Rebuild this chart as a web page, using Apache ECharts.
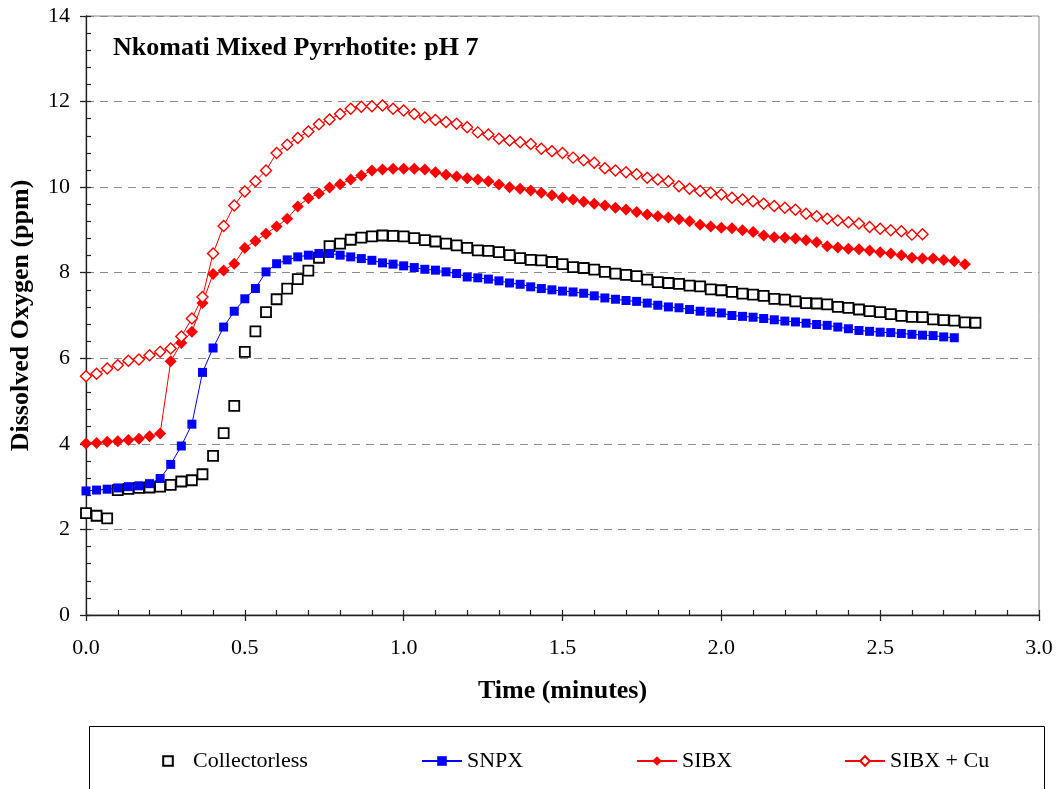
<!DOCTYPE html>
<html>
<head>
<meta charset="utf-8">
<script src="https://cdn.jsdelivr.net/npm/echarts@6/dist/echarts.min.js"></script>
<style>
html,body{margin:0;padding:0;background:#fff;}
#chart{width:1057px;height:789px;}
</style>
</head>
<body>
<div id="chart"></div>
<script>
// Sampling interval: one reading every 2 seconds (in minutes)
const timeStepMin = 2 / 60;

const seriesNames = ['Collectorless', 'SNPX', 'SIBX', 'SIBX + Cu'];
const xTickLabels = ['0.0', '0.5', '1.0', '1.5', '2.0', '2.5', '3.0'];
const yTickLabels = ['0', '2', '4', '6', '8', '10', '12', '14'];

const collectorless = [
  2.38, 2.32, 2.26, 2.92, 2.95, 2.97, 2.98, 3.00, 3.04, 3.12,
  3.15, 3.29, 3.72, 4.25, 4.89, 6.15, 6.63, 7.08, 7.38, 7.63,
  7.85, 8.05, 8.35, 8.62, 8.68, 8.77, 8.82, 8.85, 8.87, 8.86,
  8.85, 8.81, 8.76, 8.73, 8.68, 8.64, 8.58, 8.52, 8.51, 8.48,
  8.41, 8.34, 8.30, 8.29, 8.25, 8.20, 8.13, 8.11, 8.07, 8.02,
  7.98, 7.95, 7.92, 7.84, 7.78, 7.76, 7.74, 7.70, 7.68, 7.61,
  7.59, 7.55, 7.51, 7.49, 7.46, 7.39, 7.37, 7.33, 7.29, 7.28,
  7.26, 7.20, 7.18, 7.14, 7.10, 7.08, 7.03, 6.99, 6.97, 6.96,
  6.91, 6.89, 6.88, 6.84, 6.83
];

const snpx = [
  2.90, 2.92, 2.94, 2.97, 3.00, 3.02, 3.07, 3.19, 3.52, 3.95,
  4.46, 5.67, 6.24, 6.73, 7.10, 7.39, 7.63, 8.02, 8.21, 8.30,
  8.37, 8.41, 8.45, 8.45, 8.41, 8.37, 8.33, 8.29, 8.23, 8.20,
  8.16, 8.12, 8.08, 8.06, 8.02, 7.98, 7.90, 7.88, 7.85, 7.81,
  7.76, 7.73, 7.67, 7.63, 7.60, 7.57, 7.55, 7.52, 7.46, 7.41,
  7.38, 7.35, 7.33, 7.29, 7.24, 7.20, 7.18, 7.14, 7.10, 7.08,
  7.06, 7.00, 6.98, 6.96, 6.93, 6.90, 6.87, 6.85, 6.82, 6.79,
  6.77, 6.73, 6.69, 6.65, 6.63, 6.61, 6.60, 6.58, 6.56, 6.54,
  6.53, 6.50, 6.48
];

const sibx = [
  4.01, 4.02, 4.05, 4.06, 4.09, 4.12, 4.18, 4.24, 5.93, 6.36,
  6.62, 7.29, 7.97, 8.05, 8.21, 8.58, 8.74, 8.91, 9.08, 9.26,
  9.55, 9.74, 9.85, 9.99, 10.07, 10.18, 10.27, 10.39, 10.41, 10.43,
  10.43, 10.43, 10.41, 10.35, 10.29, 10.25, 10.21, 10.18, 10.14, 10.06,
  10.00, 9.96, 9.92, 9.87, 9.81, 9.75, 9.71, 9.66, 9.61, 9.57,
  9.52, 9.48, 9.42, 9.36, 9.32, 9.29, 9.25, 9.20, 9.12, 9.08,
  9.05, 9.04, 8.99, 8.95, 8.87, 8.83, 8.82, 8.80, 8.76, 8.71,
  8.62, 8.59, 8.56, 8.55, 8.52, 8.48, 8.45, 8.41, 8.35, 8.33,
  8.33, 8.30, 8.27, 8.20
];

const sibxCu = [
  5.58, 5.64, 5.76, 5.84, 5.94, 5.97, 6.07, 6.15, 6.23, 6.51,
  6.93, 7.43, 8.45, 9.09, 9.57, 9.90, 10.14, 10.39, 10.80, 10.99,
  11.15, 11.30, 11.47, 11.58, 11.71, 11.83, 11.88, 11.89, 11.91, 11.83,
  11.79, 11.71, 11.63, 11.57, 11.52, 11.48, 11.40, 11.28, 11.23, 11.13,
  11.09, 11.05, 11.01, 10.90, 10.84, 10.80, 10.69, 10.63, 10.57, 10.44,
  10.39, 10.35, 10.30, 10.22, 10.18, 10.14, 10.02, 9.96, 9.91, 9.87,
  9.83, 9.75, 9.71, 9.67, 9.61, 9.56, 9.52, 9.47, 9.38, 9.32,
  9.26, 9.22, 9.18, 9.15, 9.07, 9.03, 8.99, 8.97, 8.89, 8.90
];

function toPairs(values) {
  return values.map((v, i) => [i * timeStepMin, v]);
}

const FONT = "'Liberation Serif', 'Times New Roman', serif";

const chart = echarts.init(document.getElementById('chart'), null, {renderer: 'canvas'});

function legendAt(name, left, width) {
  return {
    data: [name],
    left: left,
    top: 750,
    padding: 0,
    itemWidth: width,
    itemHeight: 12,
    itemGap: 0,
    selectedMode: false,
    textStyle: {fontFamily: FONT, fontSize: 22, color: '#000', padding: [0, 0, 0, 0]}
  };
}

const option = {
  animation: false,
  backgroundColor: '#fff',
  title: {
    text: 'Nkomati Mixed Pyrrhotite: pH 7',
    left: 113,
    top: 35,
    padding: 0,
    textStyle: {fontFamily: FONT, fontSize: 26, fontWeight: 'bold', color: '#000'}
  },
  grid: {
    left: 85, top: 16, width: 954, height: 599,
    show: true, borderColor: '#8c8c8c', borderWidth: 1, backgroundColor: 'transparent'
  },
  legend: [
    legendAt(seriesNames[0], 148, 40),
    legendAt(seriesNames[1], 421, 40),
    legendAt(seriesNames[2], 636, 40),
    legendAt(seriesNames[3], 844, 40)
  ],
  graphic: [{
    type: 'rect',
    shape: {x: 89.5, y: 726.5, width: 955, height: 80},
    style: {fill: 'none', stroke: '#000', lineWidth: 1},
    z: 0
  }],
  xAxis: [{
    type: 'value', min: 0, max: 3, interval: 0.5, position: 'bottom',
    name: 'Time (minutes)', nameLocation: 'middle', nameGap: 63,
    nameTextStyle: {fontFamily: FONT, fontSize: 26, fontWeight: 'bold', color: '#000'},
    axisLine: {show: true, lineStyle: {color: '#222', width: 1.3}},
    axisTick: {show: true, inside: false, length: 6, lineStyle: {color: '#222', width: 1.3}},
    axisLabel: {
      margin: 22, fontFamily: FONT, fontSize: 22, color: '#000',
      formatter: v => xTickLabels[Math.round(v / 0.5)]
    },
    splitLine: {show: false}
  }, {
    type: 'value', min: 0, max: 3, interval: 0.1, position: 'bottom', gridIndex: 0,
    axisLine: {show: false},
    axisTick: {show: true, inside: true, length: 5, lineStyle: {color: '#222', width: 1.2}},
    axisLabel: {show: false},
    splitLine: {show: false}
  }],
  yAxis: [{
    type: 'value', min: 0, max: 14, interval: 2, position: 'left',
    name: 'Dissolved Oxygen (ppm)', nameLocation: 'middle', nameGap: 52,
    nameTextStyle: {fontFamily: FONT, fontSize: 26, fontWeight: 'bold', color: '#000'},
    axisLine: {show: true, lineStyle: {color: '#222', width: 1.3}},
    axisTick: {show: true, inside: false, length: 6, lineStyle: {color: '#222', width: 1.3}},
    axisLabel: {
      margin: 16, fontFamily: FONT, fontSize: 22, color: '#000',
      formatter: v => yTickLabels[Math.round(v / 2)]
    },
    splitLine: {show: true, lineStyle: {color: '#8c8c8c', width: 1, type: [8, 6]}}
  }, {
    type: 'value', min: 0, max: 14, interval: 0.4, position: 'left', gridIndex: 0,
    axisLine: {show: false},
    axisTick: {show: true, inside: true, length: 5, lineStyle: {color: '#222', width: 1.2}},
    axisLabel: {show: false},
    splitLine: {show: false}
  }],
  series: [{
    name: seriesNames[0], type: 'line', data: toPairs(collectorless),
    symbol: 'rect', symbolSize: 10, showAllSymbol: true,
    lineStyle: {width: 0, opacity: 0},
    itemStyle: {color: '#fff', borderColor: '#000', borderWidth: 1.8},
    z: 2
  }, {
    name: seriesNames[1], type: 'line', data: toPairs(snpx),
    symbol: 'rect', symbolSize: 9, showAllSymbol: true,
    lineStyle: {color: '#0000ff', width: 1},
    itemStyle: {color: '#0000ff', borderWidth: 0},
    z: 3
  }, {
    name: seriesNames[2], type: 'line', data: toPairs(sibx),
    symbol: 'diamond', symbolSize: 12, showAllSymbol: true,
    lineStyle: {color: '#ff0000', width: 1},
    itemStyle: {color: '#ff0000', borderWidth: 0},
    z: 4
  }, {
    name: seriesNames[3], type: 'line', data: toPairs(sibxCu),
    symbol: 'diamond', symbolSize: 11, showAllSymbol: true,
    lineStyle: {color: '#ff0000', width: 1},
    itemStyle: {color: '#fff', borderColor: '#ff0000', borderWidth: 1.4},
    z: 5
  }]
};

chart.setOption(option);
</script>
</body>
</html>
